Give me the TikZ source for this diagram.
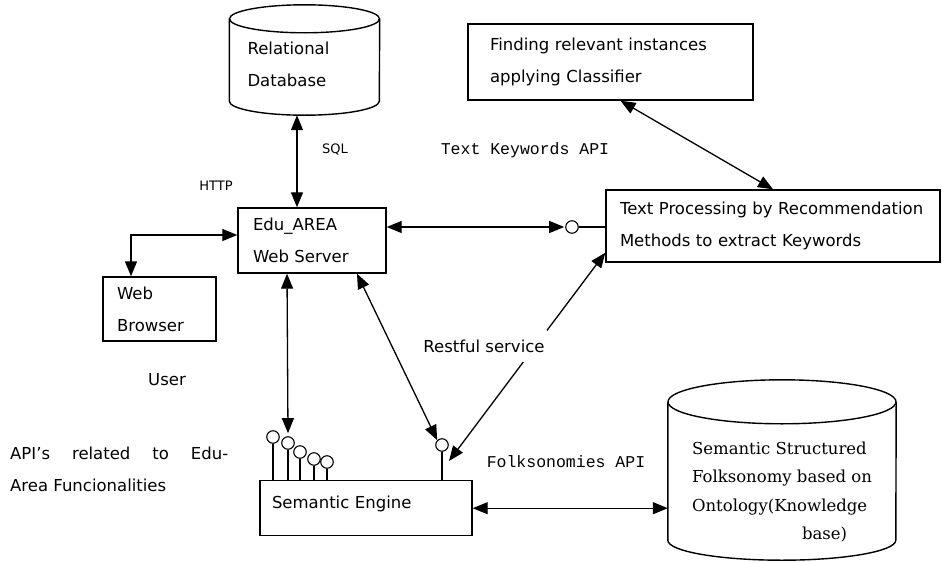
\documentclass[tikz,border=0pt]{standalone}
\usepackage{fontspec}
\setmainfont{DejaVu Sans}
\newfontfamily\serifface{DejaVu Serif}
\newfontfamily\apiface{Liberation Mono}
\usepackage{tikz}
\usetikzlibrary{positioning,calc}
\usetikzlibrary{arrows.meta}
\tikzset{
  box/.style={draw=black,line width=1.4pt,inner sep=0pt,align=left,font=\fontsize{16.5}{32}\selectfont},
  dbspot/.style={rectangle,inner sep=0pt},
  cylline/.style={draw=black,line width=1.4pt},
  biarr/.style={line width=1.3pt,{Triangle[length=15pt,width=12pt]}-{Triangle[length=15pt,width=12pt]}},
  lolly/.style={circle,draw=black,line width=1.1pt,fill=white,inner sep=0pt,minimum size=12.5pt},
}
\tikzset{lbl/.style={font=\fontsize{16.5}{32}\selectfont}, small/.style={font=\fontsize{13}{16}\selectfont}, apilbl/.style={font=\apiface\fontsize{16.5}{20}\selectfont}}

\begin{document}
\begin{tikzpicture}[x=1pt,y=-1pt]
\useasboundingbox (0,0) rectangle (942,562);
% data stores
\node[dbspot,minimum width=150pt,minimum height=110pt] (reldb) at (304.5,60) {};
\draw[cylline] ([yshift=-14pt]reldb.north west) -- ([yshift=14pt]reldb.south west) arc[start angle=180,end angle=360,x radius=75pt,y radius=14pt] -- ([yshift=-14pt]reldb.north east);
\draw[cylline] ([yshift=-14pt]reldb.north) ellipse [x radius=75pt,y radius=14pt];
\node[lbl,align=left,anchor=west] (reltext) at (244,64) {Relational\\Database};
\node[dbspot,minimum width=228pt,minimum height=180pt] (folk) at (782,470) {};
\draw[cylline] ([yshift=-22pt]folk.north west) -- ([yshift=20pt]folk.south west) arc[start angle=180,end angle=360,x radius=114pt,y radius=20pt] -- ([yshift=-22pt]folk.north east);
\draw[cylline] ([yshift=-22pt]folk.north) ellipse [x radius=114pt,y radius=22pt];
\node[align=left,font=\serifface\fontsize{16.5}{28.5}\selectfont] (folktext) at (782,492) {Semantic Structured\\Folksonomy based on\\Ontology(Knowledge\\\hspace*{110pt}base)};
% boxes
\node[box,minimum width=148pt,minimum height=65pt,text width=118pt] (webserver) at (312,240.5) {Edu\_AREA\\Web Server};
\node[box,minimum width=113pt,minimum height=64pt,text width=85pt] (browser) at (159.5,309) {Web\\Browser};
\node[box,minimum width=285pt,minimum height=76pt,text width=241pt] (finding) at (610.5,62) {Finding relevant instances\\applying Classifier};
\node[box,minimum width=334pt,minimum height=72pt,text width=306pt] (textproc) at (773,226) {Text Processing by Recommendation\\Methods to extract Keywords};
\node[box,minimum width=212pt,inner xsep=12pt,text width=188pt,text height=28pt,text depth=27pt] (semeng) at (366,480) [anchor=north] {Semantic Engine};
% labels
\node[small] (sql) at (335,150) {SQL};
\node[small] (http) at (216,186) {HTTP};
\node[apilbl] (kwapi) at (525,150) {Text Keywords API};
\node[lbl] (user) at (167,380) {User};
\node[apilbl] (folkapi) at (566,462) {Folksonomies API};
\node[lbl,align=justify,text width=218pt,anchor=north west,inner sep=0pt] (apis) at (10,447) {API’s related to Edu-\linebreak Area Funcionalities};
% lollipops
\foreach \x/\y [count=\i] in {273/437,288/443,300/452,314/459,327/462}{
  \node[lolly] (lp\i) at (\x,\y) {};
  \draw[line width=1.1pt] (lp\i.south) -- (lp\i.south |- semeng.north);
}
\node[lolly] (lpr) at (442,445) {};
\draw[line width=1.1pt] (lpr.south) -- (lpr.south |- semeng.north);
\node[lolly] (kw) at (572,227) {};
\draw[line width=1.1pt] (kw.east) -- (kw -| textproc.west);
% connectors
\coordinate (rsend) at (449,461);
\draw[biarr] ([xshift=-7.5pt]reldb.south) -- ([xshift=-7.5pt]reldb.south |- webserver.north);
\draw[biarr] ([yshift=13.5pt]webserver.east) -- ([xshift=-1pt]kw.west);
\draw[biarr] ([xshift=10pt]finding.south) -- (textproc.north);
\draw[biarr] ([xshift=-28.5pt]browser.north) |- ([yshift=5.5pt]webserver.west);
\draw[biarr] ([xshift=-25pt]webserver.south) -- ([yshift=3pt]lp2.north);
\draw[biarr] ([xshift=45pt]webserver.south) -- (lpr.north west);
\draw[biarr] (rsend) -- ([yshift=10pt]textproc.south west);
\draw[biarr] (semeng.east) -- (semeng.east -| folk.west);
\node[lbl,fill=white,inner xsep=2pt,inner ysep=10pt] (rest) at (484,346) {Restful service};
\end{tikzpicture}
\end{document}
